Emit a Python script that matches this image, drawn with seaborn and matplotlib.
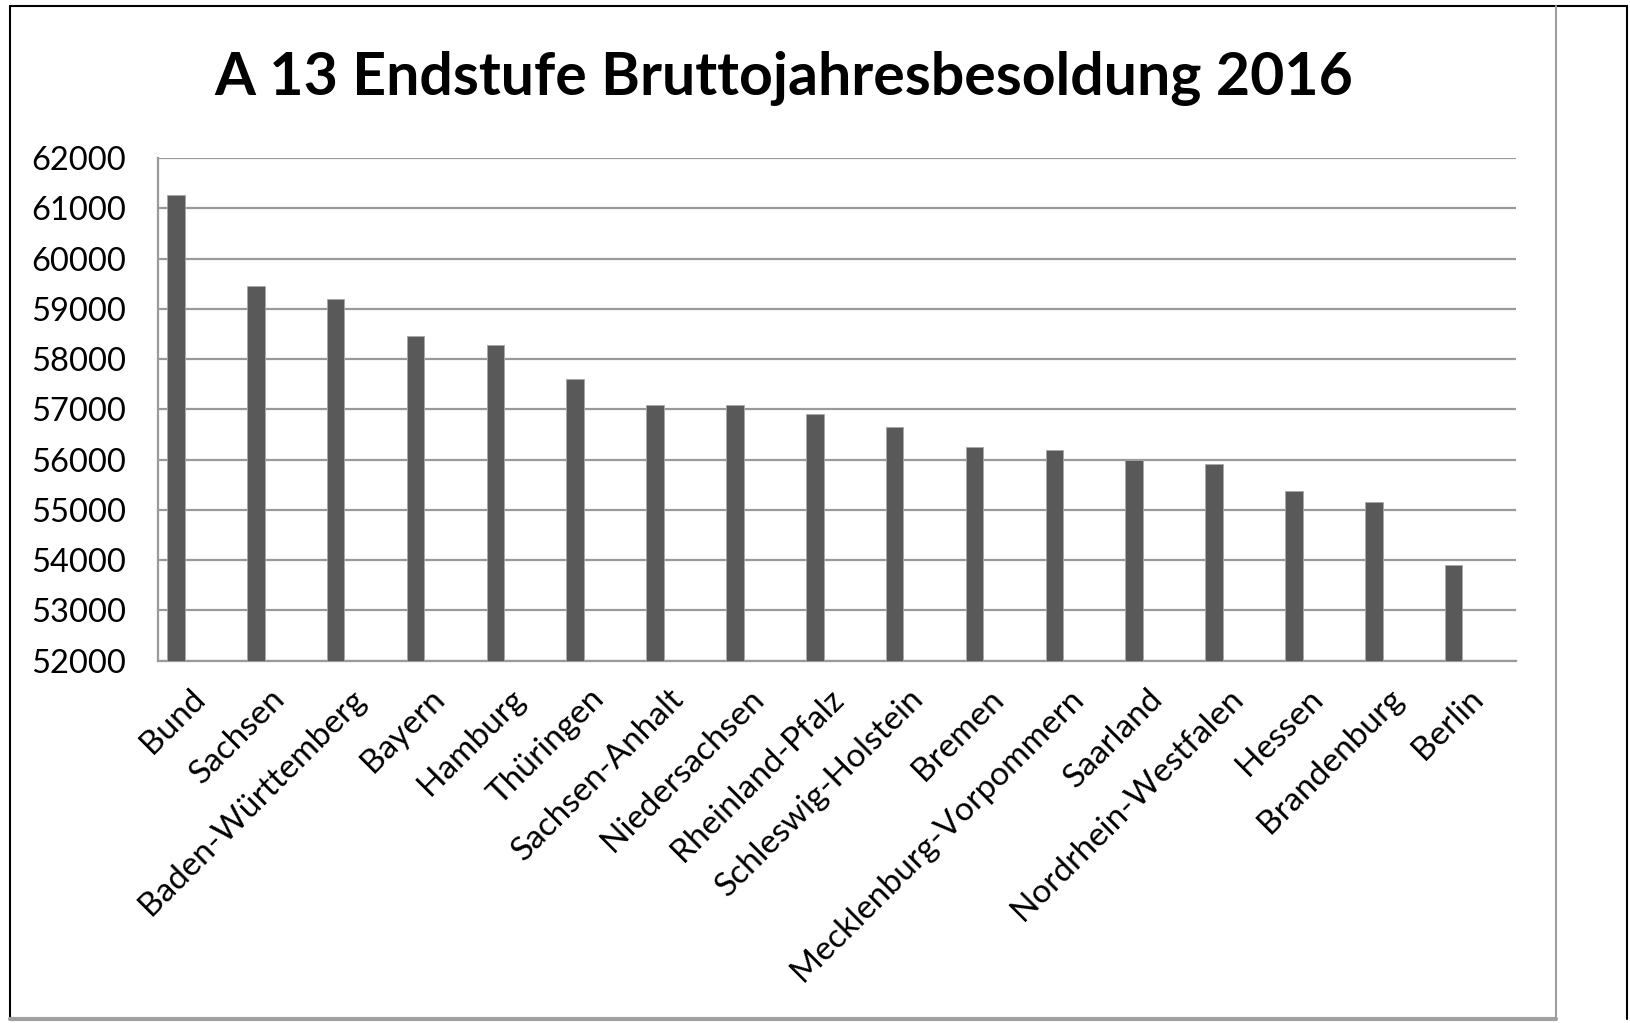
import matplotlib
matplotlib.use("Agg")
import matplotlib.pyplot as plt
import matplotlib.transforms as mtransforms
import seaborn as sns
import pandas as pd
from matplotlib.lines import Line2D

categories = ["Bund", "Sachsen", "Baden-Württemberg", "Bayern", "Hamburg", "Thüringen",
              "Sachsen-Anhalt", "Niedersachsen", "Rheinland-Pfalz", "Schleswig-Holstein",
              "Bremen", "Mecklenburg-Vorpommern", "Saarland", "Nordrhein-Westfalen",
              "Hessen", "Brandenburg", "Berlin"]
values = [61270, 59455, 59195, 58455, 58290, 57600, 57095, 57095, 56900, 56640,
          56245, 56195, 55990, 55915, 55375, 55155, 53905]
yticks = [52000, 53000, 54000, 55000, 56000, 57000, 58000, 59000, 60000, 61000, 62000]
title = "A 13 Endstufe Bruttojahresbesoldung 2016"

df = pd.DataFrame({"Land": categories, "Wert": values})

sns.set_theme(style="white")
plt.rcParams['font.family'] = ['Lato', 'DejaVu Sans']

W, H = 1631, 1023
fig = plt.figure(figsize=(W / 100, H / 100), dpi=100)
fig.patch.set_facecolor("white")
top_px, bot_px = 158.1, 660.7
ax = fig.add_axes([158.3 / W, 1 - bot_px / H, (1516.0 - 158.3) / W, (bot_px - top_px) / H])

sns.barplot(data=df, x="Land", y="Wert", ax=ax, color="#595959", width=0.22,
            saturation=1, edgecolor="#a8a8a8", linewidth=0.6, zorder=3)
# Excel-style: bars sit left of category centre
for p in ax.patches:
    p.set_x(p.get_x() - 0.28)
    p.set_zorder(3)

ax.set_xlim(-0.5, len(categories) - 0.5)
ax.set_ylim(52000, 62000)
ax.set_yticks(yticks)
ax.set_yticklabels([str(t) for t in yticks], fontsize=23.5)
ax.yaxis.grid(True, color="#9a9a9a", linewidth=1.6, zorder=0)
ax.set_axisbelow(True)
ax.set_xlabel("")
ax.set_ylabel("")
for s in ["top", "right"]:
    ax.spines[s].set_visible(False)
for s in ["left", "bottom"]:
    ax.spines[s].set_color("#9a9a9a")
    ax.spines[s].set_linewidth(1.6)
ax.tick_params(axis="y", length=3, color="#9a9a9a", pad=20, labelcolor="black")
ax.tick_params(axis="x", length=0, pad=24)
ax.set_xticks(range(len(categories)))
ax.set_xticklabels(categories, rotation=45, ha="right", rotation_mode="anchor",
                   va="center", fontsize=24, color="black")
offset = mtransforms.ScaledTranslation(2 / 100, 0, fig.dpi_scale_trans)
for lab in ax.get_xticklabels():
    lab.set_transform(lab.get_transform() + offset)

fig.text(784 / W, 1 - 79 / H, title, ha="center", va="center", fontsize=42.5,
         fontweight="bold", color="black")

# frame lines of the screenshot
fig.add_artist(Line2D([10.5 / W, 10.5 / W], [1 - 6 / H, 1 - 1019 / H], color="black", lw=1.5))
fig.add_artist(Line2D([10.5 / W, 1627 / W], [1 - 6 / H, 1 - 6 / H], color="black", lw=1.5))
fig.add_artist(Line2D([1627 / W, 1627 / W], [1 - 6 / H, 1 - 1019 / H], color="black", lw=1.5))
fig.add_artist(Line2D([1556 / W, 1556 / W], [1 - 6 / H, 1 - 1019 / H], color="#a0a0a0", lw=1.5))
fig.add_artist(Line2D([10.5 / W, 1556 / W], [1 - 1019 / H, 1 - 1019 / H], color="#a0a0a0", lw=3))

fig.savefig("out.png", dpi=100, facecolor="white")
